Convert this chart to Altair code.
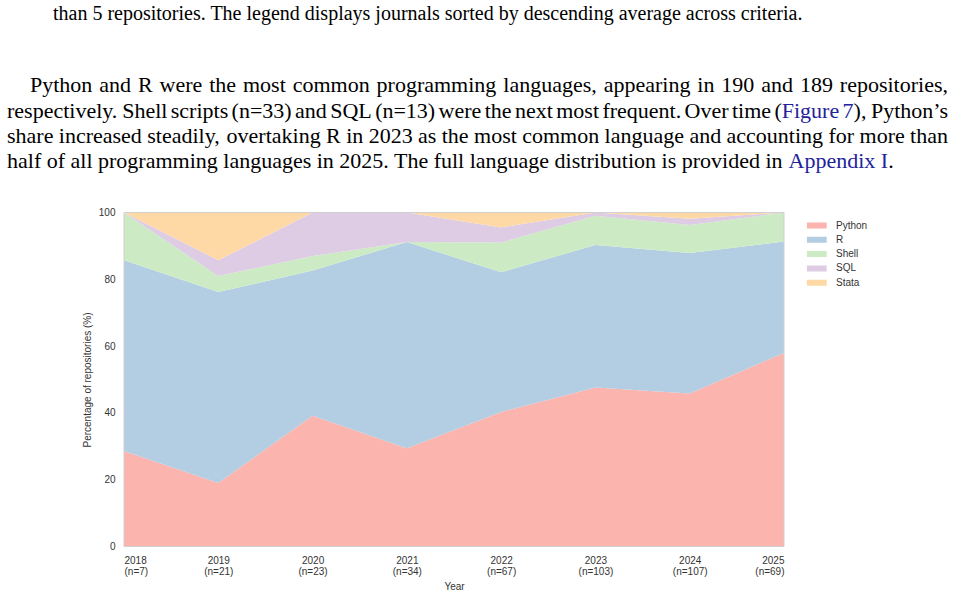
import json
import altair as alt
import pandas as pd

# Repositories per year, split by primary programming language
years = [2018, 2019, 2020, 2021, 2022, 2023, 2024, 2025]
repo_counts = [7, 21, 23, 34, 67, 103, 107, 69]
languages = ["Python", "R", "Shell", "SQL", "Stata"]
python_n = [2, 4, 9, 10, 27, 49, 49, 40]
r_n = [4, 12, 10, 21, 28, 44, 45, 23]
shell_n = [1, 1, 1, 0, 6, 9, 9, 6]
sql_n = [0, 1, 3, 3, 3, 1, 2, 0]
stata_n = [0, 3, 0, 0, 3, 0, 2, 0]
palette = ["#fbb4ae", "#b3cde3", "#ccebc5", "#decbe4", "#fed9a6"]

# Surrounding document text ([...] marks a cross-reference link)
caption_tail = "than 5 repositories. The legend displays journals sorted by descending average across criteria."
paragraph = [
    "Python and R were the most common programming languages, appearing in 190 and 189 repositories,",
    "respectively. Shell scripts (n=33) and SQL (n=13) were the next most frequent. Over time ([Figure 7]), Python\u2019s",
    "share increased steadily, overtaking R in 2023 as the most common language and accounting for more than",
    "half of all programming languages in 2025. The full language distribution is provided in [Appendix I].",
]

language_counts = [python_n, r_n, shell_n, sql_n, stata_n]

rows = []
for idx, (lang, counts) in enumerate(zip(languages, language_counts)):
    for yr, c, n in zip(years, counts, repo_counts):
        rows.append({"year": yr, "language": lang, "stack_order": idx, "pct": c / n * 100})
df = pd.DataFrame(rows)

PLOT_W, PLOT_H = 660, 334
LEFT, TOP = 124, 212.5
PAGE_W, PAGE_H = 956, 595

SANS = "Liberation Sans"
SERIF = "Liberation Serif"
INK = "#333333"
LINK = "#22229c"

n_labels = [f"(n={n})" for n in repo_counts]
label_expr = f"[format(datum.value, 'd'), {json.dumps(n_labels)}[datum.value - {years[0]}]]"

areas = alt.Chart(df).mark_area(interpolate="linear", opacity=1, strokeWidth=0).encode(
    x=alt.X(
        "year:Q",
        scale=alt.Scale(domain=[years[0], years[-1]], nice=False, zero=False),
        axis=alt.Axis(
            values=years, labelExpr=label_expr, title="Year", ticks=False, domain=False,
            grid=False, labelFont=SANS, labelFontSize=10, labelColor=INK, labelPadding=9,
            labelLineHeight=10.5, labelAngle=0, titleFont=SANS, titleFontSize=10,
            titleFontWeight="normal", titleColor=INK, titlePadding=5,
        ),
    ),
    y=alt.Y(
        "pct:Q",
        stack="zero",
        scale=alt.Scale(domain=[0, 100], nice=False),
        axis=alt.Axis(
            values=[0, 20, 40, 60, 80, 100], title="Percentage of repositories (%)",
            ticks=False, domain=False, grid=False, labelFont=SANS, labelFontSize=10,
            labelColor=INK, labelPadding=9, titleFont=SANS, titleFontSize=10,
            titleFontWeight="normal", titleColor=INK, titlePadding=6,
        ),
    ),
    color=alt.Color(
        "language:N",
        scale=alt.Scale(domain=languages, range=palette),
        legend=alt.Legend(
            title=None, orient="none", legendX=682.7, legendY=7,
            symbolType="M-1,-0.3H1V0.3H-1Z", symbolSize=400, symbolStrokeWidth=0,
            symbolOpacity=1, labelFont=SANS, labelFontSize=10, labelColor=INK,
            labelOffset=9.3, clipHeight=12, rowPadding=2.3, padding=0,
        ),
    ),
    order=alt.Order("stack_order:Q", sort="ascending"),
)

# light frame around the plotting area
frame = alt.Chart(pd.DataFrame({"x0": [years[0]], "x1": [years[-1]], "y0": [0], "y1": [100]})).mark_rect(
    fillOpacity=0, stroke="#d0d0d0", strokeWidth=1
).encode(x="x0:Q", x2="x1:Q", y="y0:Q", y2="y1:Q")

# Times advance widths (per 1000 em) for laying out justified lines
TIMES_W = {
    " ": 250, "(": 333, ")": 333, ",": 250, ".": 250, "=": 564, "\u2019": 333, "-": 333,
    "A": 722, "B": 667, "C": 667, "D": 722, "E": 611, "F": 556, "G": 722, "H": 722, "I": 333,
    "J": 389, "K": 722, "L": 611, "M": 889, "N": 722, "O": 722, "P": 556, "Q": 722, "R": 667,
    "S": 556, "T": 611, "U": 722, "V": 722, "W": 944, "X": 722, "Y": 722, "Z": 611,
    "a": 444, "b": 500, "c": 444, "d": 500, "e": 444, "f": 333, "g": 500, "h": 500, "i": 278,
    "j": 278, "k": 500, "l": 278, "m": 778, "n": 500, "o": 500, "p": 500, "q": 500, "r": 333,
    "s": 389, "t": 278, "u": 500, "v": 500, "w": 722, "x": 500, "y": 500, "z": 444,
}


def text_width(s, size):
    return sum(TIMES_W.get(ch, 500) for ch in s) * size / 1000


def text_layer(s, x, y, size, color="#000000", align="left"):
    return alt.Chart(pd.DataFrame({"s": [s]})).mark_text(
        align=align, baseline="alphabetic", font=SERIF, fontSize=size, color=color
    ).encode(x=alt.value(x - LEFT), y=alt.value(y - TOP), text="s:N")


def split_runs(s, link_state=False):
    runs, cur = [], ""
    for ch in s:
        if ch in "[]":
            if cur:
                runs.append((cur, link_state))
                cur = ""
            link_state = ch == "["
        else:
            cur += ch
    if cur:
        runs.append((cur, link_state))
    return runs, link_state


def set_line(spec, x0, y, size, x1=None):
    """Typeset one line; when x1 is given the words are spread to fill x0..x1."""
    layers = []
    if x1 is None:
        x = x0
        for t, is_link in split_runs(spec)[0]:
            layers.append(text_layer(t, x, y, size, LINK if is_link else "#000000"))
            x += text_width(t, size)
        return layers
    words, state = [], False
    for w in spec.split(" "):
        runs, state = split_runs(w, state)
        words.append(runs)
    widths = [sum(text_width(t, size) for t, _ in r) for r in words]
    gap = (x1 - x0 - sum(widths)) / (len(words) - 1)
    x = x0
    for i, (runs, w) in enumerate(zip(words, widths)):
        if i == len(words) - 1 and len(runs) == 1:
            t, is_link = runs[0]
            layers.append(text_layer(t, x1, y, size, LINK if is_link else "#000000", align="right"))
            break
        px = x
        for t, is_link in runs:
            layers.append(text_layer(t, px, y, size, LINK if is_link else "#000000"))
            px += text_width(t, size)
        x += w + gap
    return layers


BODY = 22
texts = set_line(caption_tail, 53, 20, 20)
texts += set_line(paragraph[0], 30, 92, BODY, 948)
texts += set_line(paragraph[1], 7, 118, BODY, 948)
texts += set_line(paragraph[2], 7, 143, BODY, 948)
texts += set_line(paragraph[3], 7, 168, BODY)

chart = alt.layer(areas, frame, *texts).properties(
    width=PLOT_W,
    height=PLOT_H,
    autosize=alt.AutoSizeParams(type="none"),
    padding={"left": LEFT, "top": TOP, "right": PAGE_W - LEFT - PLOT_W, "bottom": PAGE_H - TOP - PLOT_H},
    background="#ffffff",
).configure_view(strokeWidth=0)

chart.save("out.html", embed_options={"renderer": "svg", "actions": False})
